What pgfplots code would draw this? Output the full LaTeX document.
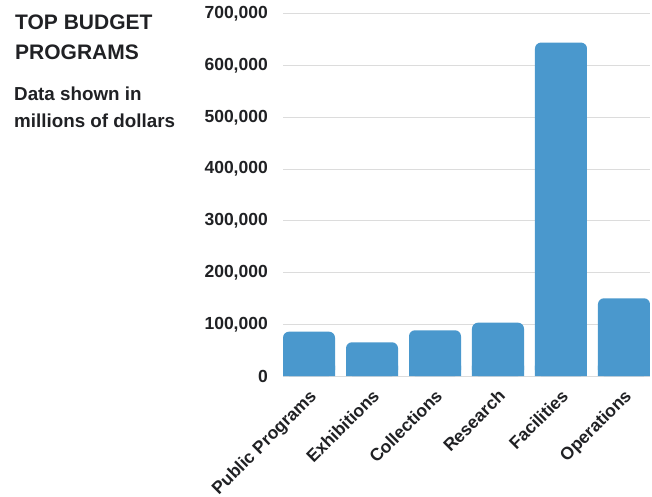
\documentclass[border=0pt]{standalone}
\usepackage{pgfplots}
\pgfplotsset{compat=1.18}
\usepackage{fontspec}
\setmainfont{Liberation Sans}
\definecolor{barblue}{HTML}{4A98CD}
\definecolor{gridgray}{HTML}{DCDCDC}
\definecolor{txt}{HTML}{202124}
\begin{document}
\begin{tikzpicture}[x=1pt,y=1pt]
\path[use as bounding box] (-283,-121) rectangle (369,376);
\begin{axis}[
  at={(0,0)}, anchor=south west,
  scale only axis, width=367pt, height=362pt,
  xmin=-0.413, xmax=5.413, ymin=0, ymax=700000,
  axis lines=left, axis line style={draw=none},
  tick style={draw=none}, major tick length=0pt,
  scaled y ticks=false,
  ytick={0,100000,200000,300000,400000,500000,600000,700000},
  yticklabels={0,{100,000},{200,000},{300,000},{400,000},{500,000},{600,000},{700,000}},
  yticklabel style={font=\fontsize{17.5}{20}\selectfont\bfseries, text=txt, anchor=east, inner sep=0pt, xshift=-15pt},
  ymajorgrids, grid style={gridgray, line width=1pt},
  xtick={0,1,2,3,4,5},
  xticklabels={Public Programs, Exhibitions, Collections, Research, Facilities, Operations},
  xticklabel style={font=\fontsize{17.5}{20}\selectfont\bfseries, text=txt, rotate=45, anchor=north east, inner sep=0pt, xshift=-9pt, yshift=-8pt},
  ybar, bar width=52pt, bar shift=0pt,
  clip=false,
]
\addplot[fill=barblue, draw=none, rounded corners=6pt] coordinates {(0,85700) (1,65200) (2,88400) (3,103100) (4,644700) (5,150300)};
\addplot[fill=barblue, draw=none] coordinates {(0,20000) (1,20000) (2,20000) (3,20000) (4,20000) (5,20000)};
\end{axis}
\node[anchor=base west, font=\fontsize{21}{25}\selectfont\bfseries, text=txt, inner sep=0pt] at (-268,346) {TOP BUDGET};
\node[anchor=base west, font=\fontsize{21}{25}\selectfont\bfseries, text=txt, inner sep=0pt] at (-268,316) {PROGRAMS};
\node[anchor=base west, font=\fontsize{18.8}{22}\selectfont\bfseries, text=txt, inner sep=0pt] at (-269,275) {Data shown in};
\node[anchor=base west, font=\fontsize{18.8}{22}\selectfont\bfseries, text=txt, inner sep=0pt] at (-269,248) {millions of dollars};
\end{tikzpicture}
\end{document}
